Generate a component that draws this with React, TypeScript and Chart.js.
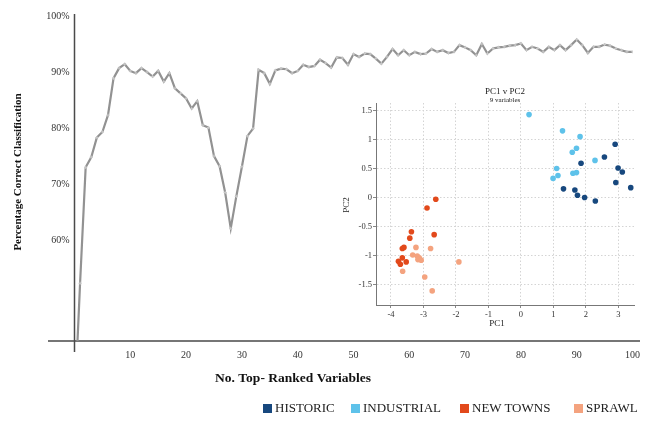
import React, { useEffect, useRef } from "react";
import { Chart, registerables } from "chart.js";

Chart.register(...registerables);

// ---- Main line chart data ----
const ranks = [
  0, 1, 2, 3, 4, 5, 6, 7, 8, 9, 10, 11, 12, 13, 14, 15, 16, 17, 18, 19, 20,
  21, 22, 23, 24, 25, 26, 27, 28, 29, 30, 31, 32, 33, 34, 35, 36, 37, 38, 39, 40,
  41, 42, 43, 44, 45, 46, 47, 48, 49, 50, 51, 52, 53, 54, 55, 56, 57, 58, 59, 60,
  61, 62, 63, 64, 65, 66, 67, 68, 69, 70, 71, 72, 73, 74, 75, 76, 77, 78, 79, 80,
  81, 82, 83, 84, 85, 86, 87, 88, 89, 90, 91, 92, 93, 94, 95, 96, 97, 98, 99, 100,
];
const accuracy = [
  30, 52.3, 73.0, 74.8, 78.3, 79.3, 82.3, 88.9, 90.7, 91.4, 90.2,
  89.8, 90.7, 90.0, 89.2, 90.2, 88.3, 89.8, 87.1, 86.2, 85.3,
  83.5, 84.8, 80.5, 80.1, 75.0, 73.2, 68.5, 62.1, 67.8, 73.1,
  78.6, 79.9, 90.4, 89.8, 87.9, 90.3, 90.6, 90.5, 89.8, 90.2,
  91.3, 90.9, 91.1, 92.2, 91.6, 90.8, 92.6, 92.5, 91.3, 93.2,
  92.7, 93.3, 93.2, 92.4, 91.5, 92.7, 94.1, 93.0, 93.9, 93.0,
  93.6, 93.2, 93.3, 94.1, 93.6, 93.9, 93.4, 93.6, 94.8, 94.4,
  93.9, 93.0, 95.0, 93.3, 94.2, 94.4, 94.5, 94.7, 94.8, 95.1,
  93.9, 94.5, 94.2, 93.6, 94.5, 93.9, 94.8, 93.9, 94.8, 95.8,
  94.8, 93.4, 94.5, 94.5, 94.9, 94.7, 94.2, 93.9, 93.6, 93.6,
];
const yTickValues = [60, 70, 80, 90, 100];
const xTickValues = [10, 20, 30, 40, 50, 60, 70, 80, 90, 100];

// ---- Inset PCA scatter data ----
const historicPC1 = [2.9, 2.57, 1.85, 2.99, 3.12, 2.92, 3.38, 1.31, 1.66, 1.74, 1.96, 2.29];
const historicPC2 = [0.92, 0.7, 0.59, 0.51, 0.44, 0.26, 0.17, 0.15, 0.13, 0.04, 0.0, -0.06];
const industrialPC1 = [0.25, 1.28, 1.82, 1.71, 1.58, 2.28, 1.1, 1.14, 0.99, 1.6, 1.71];
const industrialPC2 = [1.43, 1.15, 1.05, 0.85, 0.78, 0.64, 0.5, 0.38, 0.33, 0.42, 0.43];
const newTownsPC1 = [-2.62, -2.89, -3.37, -3.42, -2.67, -3.6, -3.65, -3.65, -3.77, -3.53, -3.71];
const newTownsPC2 = [-0.03, -0.18, -0.59, -0.7, -0.64, -0.86, -0.88, -1.04, -1.1, -1.11, -1.15];
const sprawlPC1 = [-3.23, -2.78, -3.33, -3.19, -3.13, -3.17, -3.07, -1.91, -3.64, -2.96, -2.73];
const sprawlPC2 = [-0.86, -0.88, -0.99, -1.01, -1.04, -1.07, -1.08, -1.11, -1.27, -1.37, -1.61];
const pcXTicks = [-4, -3, -2, -1, 0, 1, 2, 3];
const pcYTicks = [-1.5, -1, -0.5, 0, 0.5, 1, 1.5];
const groupNames = ["HISTORIC", "INDUSTRIAL", "NEW TOWNS", "SPRAWL"];
const groupColors = ["#17487e", "#5ec2ea", "#e2491b", "#f4a37f"];

const SERIF = '"Liberation Serif", "Times New Roman", serif';

const mainDecor = {
  id: "mainDecor",
  beforeDatasetsDraw(chart: any) {
    const { ctx, scales } = chart;
    const axisX = scales.x.getPixelForValue(0);
    const axisY = scales.y.getPixelForValue(42);
    ctx.save();
    ctx.strokeStyle = "#4a4a4a";
    ctx.lineWidth = 1.5;
    ctx.beginPath();
    ctx.moveTo(48, axisY);
    ctx.lineTo(640, axisY);
    ctx.moveTo(axisX, 14);
    ctx.lineTo(axisX, 352);
    ctx.stroke();
    ctx.restore();
  },
  afterDraw(chart: any) {
    const { ctx } = chart;
    ctx.save();
    ctx.fillStyle = "#111";
    ctx.textAlign = "center";
    ctx.textBaseline = "middle";
    ctx.font = `bold 13.5px ${SERIF}`;
    ctx.fillText("No. Top- Ranked Variables", 293, 379);
    ctx.font = `bold 11px ${SERIF}`;
    ctx.translate(18, 172);
    ctx.rotate(-Math.PI / 2);
    ctx.fillText("Percentage Correct Classification", 0, 0);
    ctx.restore();
  },
};

const insetDecor = {
  id: "insetDecor",
  afterDraw(chart: any) {
    const { ctx } = chart;
    ctx.save();
    ctx.fillStyle = "#222";
    ctx.textAlign = "center";
    ctx.textBaseline = "middle";
    ctx.font = `9px ${SERIF}`;
    ctx.fillText("PC1 v PC2", 175, 12);
    ctx.font = `7px ${SERIF}`;
    ctx.fillText("9 variables", 175, 20);
    ctx.font = `9px ${SERIF}`;
    ctx.fillText("PC1", 167, 244);
    ctx.translate(17, 125);
    ctx.rotate(-Math.PI / 2);
    ctx.fillText("PC2", 0, 0);
    ctx.restore();
  },
};

function MainChart() {
  const ref = useRef<HTMLCanvasElement>(null);
  useEffect(() => {
    const chart = new Chart(ref.current as HTMLCanvasElement, {
      type: "line",
      data: {
        datasets: [
          {
            data: ranks.map((r, i) => ({ x: r, y: accuracy[i] })),
            borderColor: "#929292",
            borderWidth: 2.2,
            pointRadius: 1.6,
            pointStyle: "cross",
            pointBorderColor: "#c8c8c8",
            pointBorderWidth: 1,
            tension: 0,
            fill: false,
          },
        ],
      },
      options: {
        responsive: false,
        animation: false,
        layout: { padding: { left: 0, right: 14.5, top: 16, bottom: 0 } },
        plugins: { legend: { display: false }, tooltip: { enabled: false } },
        scales: {
          x: {
            type: "linear",
            min: 0,
            max: 100,
            grid: { display: false, drawTicks: false },
            border: { display: false },
            ticks: {
              color: "#333",
              font: { family: SERIF, size: 10 },
              padding: 8,
              maxRotation: 0,
              autoSkip: false,
            },
            afterBuildTicks: (s: any) => {
              s.ticks = xTickValues.map((v) => ({ value: v }));
            },
            afterFit: (s: any) => {
              s.height = 82;
            },
          },
          y: {
            type: "linear",
            min: 42,
            max: 100,
            grid: { display: false, drawTicks: false },
            border: { display: false },
            ticks: {
              color: "#333",
              font: { family: SERIF, size: 10 },
              padding: 5,
              callback: (v: any) => `${v}%`,
            },
            afterBuildTicks: (s: any) => {
              s.ticks = yTickValues.map((v) => ({ value: v }));
            },
            afterFit: (s: any) => {
              s.width = 74.5;
            },
          },
        },
      },
      plugins: [mainDecor],
    } as any);
    return () => chart.destroy();
  }, []);
  return <canvas ref={ref} width={648} height={423} style={{ position: "absolute", left: 0, top: 0 }} />;
}

function InsetChart() {
  const ref = useRef<HTMLCanvasElement>(null);
  useEffect(() => {
    const groups = [
      [historicPC1, historicPC2],
      [industrialPC1, industrialPC2],
      [newTownsPC1, newTownsPC2],
      [sprawlPC1, sprawlPC2],
    ];
    const chart = new Chart(ref.current as HTMLCanvasElement, {
      type: "scatter",
      data: {
        datasets: groups.map(([xs, ys], g) => ({
          label: groupNames[g],
          data: xs.map((x, i) => ({ x, y: ys[i] })),
          backgroundColor: groupColors[g],
          borderWidth: 0,
          pointRadius: 2.8,
        })),
      },
      options: {
        responsive: false,
        animation: false,
        layout: { padding: { left: 0, right: 14, top: 23, bottom: 0 } },
        plugins: { legend: { display: false }, tooltip: { enabled: false } },
        scales: {
          x: {
            type: "linear",
            min: -4.46,
            max: 3.48,
            grid: { color: "#d4d4d4", tickLength: 3, tickColor: "#888", tickBorderDash: [] },
            border: { display: true, color: "#777", width: 1, dash: [1.5, 2] },
            ticks: {
              color: "#333",
              font: { family: SERIF, size: 8.5 },
              padding: 2,
              maxRotation: 0,
              autoSkip: false,
              callback: (v: any) => String(v),
            },
            afterBuildTicks: (s: any) => {
              s.ticks = pcXTicks.map((v) => ({ value: v }));
            },
            afterFit: (s: any) => {
              s.height = 35;
            },
          },
          y: {
            type: "linear",
            min: -1.853,
            max: 1.63,
            grid: { color: "#d4d4d4", tickLength: 3, tickColor: "#888", tickBorderDash: [] },
            border: { display: true, color: "#777", width: 1, dash: [1.5, 2] },
            ticks: {
              color: "#333",
              font: { family: SERIF, size: 8.5 },
              padding: 1,
              autoSkip: false,
              callback: (v: any) => String(v),
            },
            afterBuildTicks: (s: any) => {
              s.ticks = pcYTicks.map((v) => ({ value: v }));
            },
            afterFit: (s: any) => {
              s.width = 46;
            },
          },
        },
      },
      plugins: [insetDecor],
    } as any);
    return () => chart.destroy();
  }, []);
  return <canvas ref={ref} width={318} height={260} style={{ position: "absolute", left: 330, top: 80 }} />;
}

const legendLefts = [263, 351, 460, 574];

export default function App() {
  return (
    <div style={{ position: "fixed", left: 0, top: 0, width: 648, height: 423, background: "#fff", overflow: "hidden" }}>
      <MainChart />
      <InsetChart />
      {groupNames.map((name, i) => (
        <div
          key={name}
          style={{
            position: "absolute",
            left: legendLefts[i],
            top: 400,
            display: "flex",
            alignItems: "center",
            fontFamily: SERIF,
            fontSize: 13,
            color: "#222",
            whiteSpace: "nowrap",
          }}
        >
          <span style={{ display: "inline-block", width: 9, height: 9, background: groupColors[i], marginRight: 3 }} />
          <span>{name}</span>
        </div>
      ))}
    </div>
  );
}
